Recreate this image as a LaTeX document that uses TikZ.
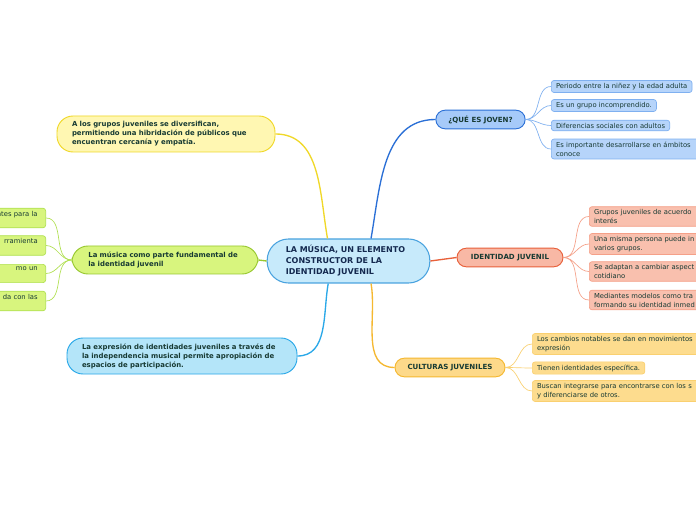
\documentclass[tikz,border=0pt]{standalone}
\usepackage{fontspec}
\setmainfont{DejaVu Sans}
\usetikzlibrary{calc}
\definecolor{inkteal}{HTML}{173A33}
\definecolor{inkblue}{HTML}{14294F}
\definecolor{rootfill}{HTML}{C7EAFB}
\definecolor{rootline}{HTML}{4AA3DF}
\definecolor{quefill}{HTML}{A6CAF9}
\definecolor{queline}{HTML}{2A6FD6}
\definecolor{queleaf}{HTML}{B6D4FA}
\definecolor{queleafline}{HTML}{7FB0F0}
\definecolor{idfill}{HTML}{F8B8A5}
\definecolor{idline}{HTML}{E8603A}
\definecolor{idleaf}{HTML}{F9C0AE}
\definecolor{idleafline}{HTML}{F5A088}
\definecolor{culfill}{HTML}{FDD98A}
\definecolor{culline}{HTML}{F5B830}
\definecolor{culleaf}{HTML}{FDDC8E}
\definecolor{culleafline}{HTML}{FAD070}
\definecolor{yelfill}{HTML}{FFF7B2}
\definecolor{yelline}{HTML}{F0D828}
\definecolor{grnfill}{HTML}{D8F57E}
\definecolor{grnline}{HTML}{98C830}
\definecolor{grnleafline}{HTML}{B0E050}
\definecolor{skyfill}{HTML}{B4E5F9}
\definecolor{skyline}{HTML}{2AA8E8}
\newcommand{\rootfont}{\fontsize{6pt}{8.2pt}\selectfont\bfseries}
\newcommand{\topicfont}{\fontsize{5.3pt}{6.5pt}\selectfont\bfseries}
\newcommand{\notefont}{\fontsize{5.2pt}{6.75pt}\selectfont\bfseries}
\newcommand{\leaffont}{\fontsize{5.1pt}{6.8pt}\selectfont}
\hyphenpenalty=10000

\begin{document}
\begin{tikzpicture}[x=0.75pt, y=-0.75pt,
  rootbox/.style={draw=rootline, fill=rootfill, line width=0.8pt, rounded corners=16pt, minimum width=122pt, minimum height=33pt, inner xsep=14pt, text width=94pt, align=left, font=\rootfont, text=inkblue},
  topicbox/.style={rounded corners=7pt, line width=0.7pt, minimum height=14pt, align=center, font=\topicfont, text=inkteal},
  notebox/.style={rounded corners=12pt, line width=0.7pt, align=left, font=\notefont, text=inkteal, inner xsep=11pt},
  leafbox/.style={rounded corners=2pt, line width=0.5pt, align=left, font=\leaffont, text=inkteal, inner xsep=3.5pt, inner ysep=2pt},
  branch/.style={line width=1pt},
  twig/.style={line width=0.5pt}
]
\fill[white] (0,0) rectangle (696,520);
\useasboundingbox (0,0) rectangle (696,520);
\clip (0,0) rectangle (696,520);

% Central idea
\node[rootbox] (root) at (348.5, 261) {LA MÚSICA, UN ELEMENTO\\CONSTRUCTOR DE LA\\IDENTIDAD JUVENIL};

% Right topics
\node[topicbox, draw=queline, fill=quefill, minimum width=67pt] (que) at (480.5, 119.5) {¿QUÉ ES JOVEN?};
\node[topicbox, draw=idline, fill=idfill, minimum width=79.5pt] (ident) at (510, 257.5) {IDENTIDAD JUVENIL};
\node[topicbox, draw=culline, fill=culfill, minimum width=82.5pt] (cult) at (450, 367.5) {CULTURAS JUVENILES};

% Left topics
\node[notebox, draw=yelline, fill=yelfill, minimum width=163.5pt, minimum height=27pt, text width=141pt] (hibrid) at (166, 134) {A los grupos juveniles se diversifican,\\permitiendo una hibridación de públicos que\\encuentran cercanía y empatía.};
\node[notebox, draw=grnline, fill=grnfill, minimum width=139.5pt, minimum height=21pt, text width=115pt, inner xsep=12pt] (musica) at (165, 260) {La música como parte fundamental de\\la identidad juvenil};
\node[notebox, draw=skyline, fill=skyfill, minimum width=172.5pt, minimum height=27pt, text width=150pt] (expres) at (182, 356) {La expresión de identidades juveniles a través de\\la independencia musical permite apropiación de\\espacios de participación.};

\draw[branch, draw=queline] (root.45) to[out=80, in=180] (que.west);
\draw[branch, draw=idline] (root.east) -- (ident.west);
\draw[branch, draw=culline] (root.-45) to[out=-80, in=180] (cult.west);
\draw[branch, draw=yelline] (root.133) to[out=100, in=0] (hibrid.east);
\draw[branch, draw=grnline] (root.west) -- (musica.east);
\draw[branch, draw=skyline] (root.-132) to[out=-100, in=0] (expres.east);

% Leaves of QUE ES JOVEN
\node[leafbox, draw=queleafline, fill=queleaf, anchor=west] (q1) at (551, 86.5) {Periodo entre la niñez y la edad adulta};
\node[leafbox, draw=queleafline, fill=queleaf, anchor=west] (q2) at (551, 105.5) {Es un grupo incomprendido.};
\node[leafbox, draw=queleafline, fill=queleaf, anchor=west] (q3) at (551, 125.5) {Diferencias sociales con adultos};
\node[leafbox, draw=queleafline, fill=queleaf, anchor=west, text width=130pt] (q4) at (551, 149) {Es importante desarrollarse en ámbitos\\conoce};

\foreach \n in {q1,q2,q3,q4}
  \draw[twig, draw=queleafline] (que.east) to[out=0, in=180] (\n.west);

% Leaves of IDENTIDAD JUVENIL
\node[leafbox, draw=idleafline, fill=idleaf, anchor=west, text width=110pt] (i1) at (589, 216.5) {Grupos juveniles de acuerdo\\interés};
\node[leafbox, draw=idleafline, fill=idleaf, anchor=west, text width=110pt] (i2) at (589, 244) {Una misma persona puede in\\varios grupos.};
\node[leafbox, draw=idleafline, fill=idleaf, anchor=west, text width=110pt] (i3) at (589, 271.5) {Se adaptan a cambiar aspect\\cotidiano};
\node[leafbox, draw=idleafline, fill=idleaf, anchor=west, text width=110pt] (i4) at (589, 300) {Mediantes modelos como tra\\formando su identidad inmed};

\foreach \n in {i1,i2,i3,i4}
  \draw[twig, draw=idleafline] (ident.east) to[out=0, in=180] (\n.west);

% Leaves of CULTURAS JUVENILES
\node[leafbox, draw=culleafline, fill=culleaf, anchor=west, text width=150pt] (c1) at (532, 344) {Los cambios notables se dan en movimientos\\expresión};
\node[leafbox, draw=culleafline, fill=culleaf, anchor=west] (c2) at (532, 368) {Tienen identidades específica.};
\node[leafbox, draw=culleafline, fill=culleaf, anchor=west, text width=150pt] (c3) at (532, 391) {Buscan integrarse para encontrarse con los s\\y diferenciarse de otros.};

\foreach \n in {c1,c2,c3}
  \draw[twig, draw=culleafline] (cult.east) to[out=0, in=180] (\n.west);

% Leaves of the music topic (cut at the left edge)
\node[leafbox, draw=grnleafline, fill=grnfill, anchor=east, text width=70pt, align=right, inner xsep=6pt] (g1) at (46, 218) {ntes para la\\\mbox{}};
\node[leafbox, draw=grnleafline, fill=grnfill, anchor=east, text width=70pt, align=right, inner xsep=6pt] (g2) at (46, 245.5) {rramienta\\\mbox{}};
\node[leafbox, draw=grnleafline, fill=grnfill, anchor=east, text width=70pt, align=right, inner xsep=6pt] (g3) at (46, 273.5) {mo un\\\mbox{}};
\node[leafbox, draw=grnleafline, fill=grnfill, anchor=east, text width=70pt, align=right, inner xsep=6pt] (g4) at (46, 301) {da con las\\\mbox{}};

\foreach \n in {g1,g2,g3,g4}
  \draw[twig, draw=grnleafline] (musica.west) to[out=180, in=0] (\n.east);

\end{tikzpicture}
\end{document}
